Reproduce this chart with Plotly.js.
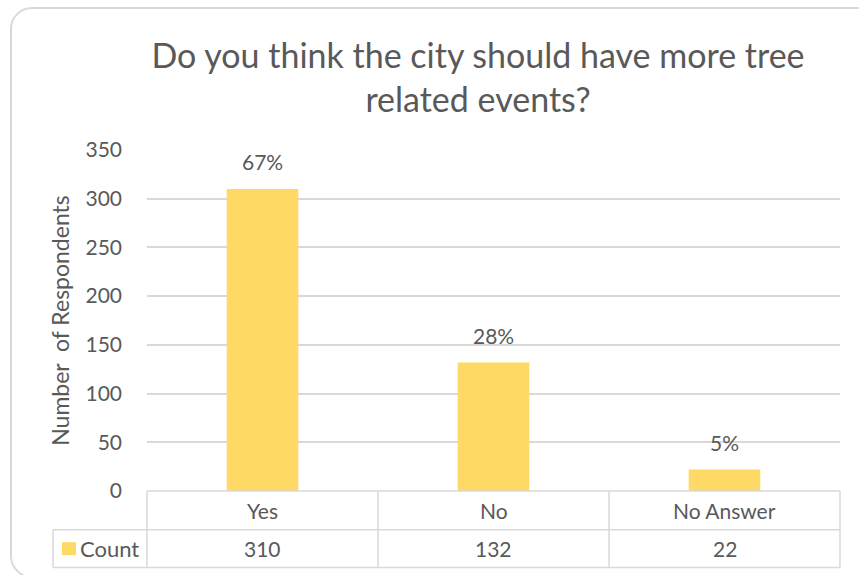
<!DOCTYPE html>
<html>
<head>
<meta charset="utf-8">
<script src="https://cdn.plot.ly/plotly-3.0.1.min.js"></script>
<style>
  html, body { margin: 0; padding: 0; background: #ffffff; overflow: hidden; }
  #card {
    position: absolute; left: 10px; top: 7px; width: 870px; height: 571px;
    border: 2px solid #d9d9d9; border-radius: 22px; box-sizing: border-box;
  }
  #chart { position: absolute; left: 0; top: 0; width: 859px; height: 575px; }
</style>
</head>
<body>
<div id="card"></div>
<div id="chart"></div>
<script>
// survey answers
const categories = ['Yes', 'No', 'No Answer'];
const counts = [310, 132, 22];
const percentLabels = ['67%', '28%', '5%'];
const yTicks = [0, 50, 100, 150, 200, 250, 300, 350];

const textColor = '#595959';
const lineColor = '#d9d9d9';
const font = 'Lato, "Open Sans", sans-serif';

const trace = {
    x: categories,
    y: counts,
    type: 'bar',
    name: 'Count',
    width: 0.31,
    marker: { color: '#ffd966' },
    hoverinfo: 'x+y'
};

// data table under the plot (paper coords: plot area is 0..1)
const rowMid = -0.057;
const row2 = -0.114;
const rowBottom = -0.224;
const valueMid = -0.169;
const tableLeft = -0.1356;

const shapes = [];
const lineStyle = { color: lineColor, width: 1.5 };
[0, row2, rowBottom].forEach(function (yy) {
    shapes.push({ type: 'line', xref: 'paper', yref: 'paper',
        x0: yy === 0 ? 0 : tableLeft, x1: 1, y0: yy, y1: yy, line: lineStyle });
});
shapes.push({ type: 'line', xref: 'paper', yref: 'paper',
    x0: tableLeft, x1: tableLeft, y0: row2, y1: rowBottom, line: lineStyle });
[0, 1, 2, 3].forEach(function (i) {
    shapes.push({ type: 'line', xref: 'paper', yref: 'paper',
        x0: i / 3, x1: i / 3, y0: 0, y1: rowBottom, line: lineStyle });
});
// legend key square
shapes.push({ type: 'rect', xref: 'paper', yref: 'paper',
    x0: -0.1227, x1: -0.1025, y0: -0.188, y1: -0.150,
    fillcolor: '#ffd966', line: { width: 0 } });

const annotations = [];
categories.forEach(function (c, i) {
    annotations.push({ x: c, xref: 'x', y: rowMid, yref: 'paper', yanchor: 'middle', text: c,
        showarrow: false, font: { size: 21, color: textColor } });
    annotations.push({ x: c, xref: 'x', y: valueMid, yref: 'paper', yanchor: 'middle',
        text: String(counts[i]), showarrow: false, font: { size: 21, color: textColor } });
    annotations.push({ x: c, xref: 'x', y: counts[i], yref: 'y', yanchor: 'middle',
        text: percentLabels[i], showarrow: false, yshift: 27, font: { size: 21, color: textColor } });
});
annotations.push({ x: -0.1, xref: 'paper', xanchor: 'left', y: valueMid, yref: 'paper',
    yanchor: 'middle', text: 'Count', showarrow: false, font: { size: 22, color: textColor } });

const layout = {
    width: 859,
    height: 575,
    font: { family: font, color: textColor, size: 21 },
    title: {
        text: 'Do you think the city should have more tree<br>related events?',
        font: { size: 34, color: textColor },
        x: 0.5565, xanchor: 'center', xref: 'container',
        y: 1 - 68 / 575, yanchor: 'middle', yref: 'container'
    },
    xaxis: {
        showticklabels: false,
        showline: false,
        showgrid: false,
        zeroline: false,
        fixedrange: true
    },
    yaxis: {
        title: { text: 'Number  of Respondents', font: { size: 23, color: textColor }, standoff: 9 },
        range: [0, 350],
        tickvals: yTicks,
        showgrid: true,
        gridcolor: lineColor,
        gridwidth: 1.5,
        zeroline: false,
        ticks: '',
        ticklabelstandoff: 24,
        tickfont: { size: 21, color: textColor }
    },
    shapes: shapes,
    annotations: annotations,
    showlegend: false,
    margin: { l: 147, r: 19, t: 150, b: 84 },
    paper_bgcolor: 'rgba(0,0,0,0)',
    plot_bgcolor: 'rgba(0,0,0,0)'
};

Plotly.newPlot('chart', [trace], layout, { displayModeBar: false });
</script>
</body>
</html>
